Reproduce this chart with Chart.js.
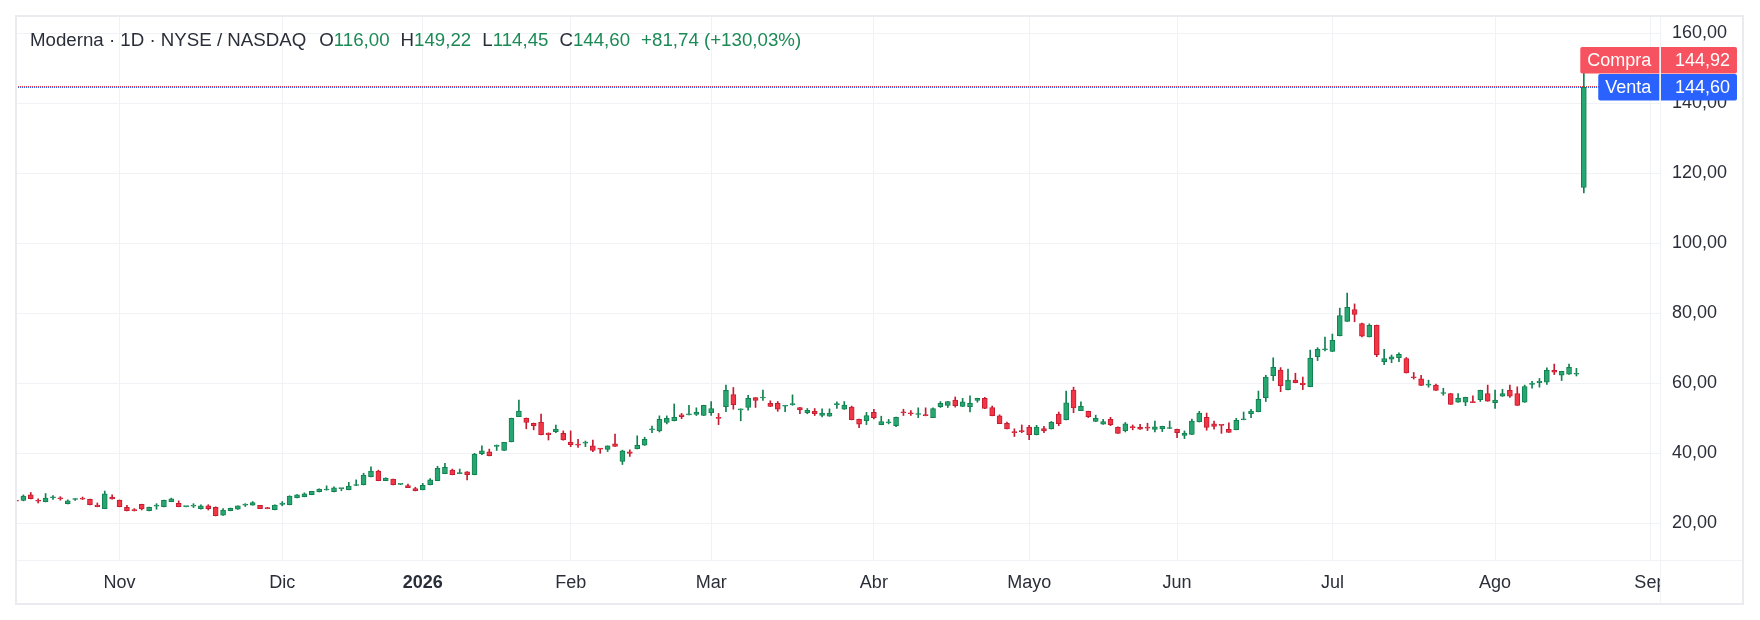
<!DOCTYPE html>
<html>
<head>
<meta charset="utf-8">
<script src="https://cdn.jsdelivr.net/npm/chart.js@4.4.1/dist/chart.umd.min.js"></script>
<style>
html,body{margin:0;padding:0;background:#fff;}
#wrap{position:relative;width:1760px;height:620px;overflow:hidden;}
#c{position:absolute;left:0;top:0;}
#hdr{position:absolute;left:30px;top:29px;font:18.7px "Liberation Sans",Arial,sans-serif;line-height:22px;color:#2a2e39;white-space:pre;}
#hdr .grp{margin-left:11px;}
#hdr .first{margin-left:13px;}
#hdr .g{color:#1b8a55;}
</style>
</head>
<body>
<div id="wrap">
<canvas id="c" width="1760" height="620"></canvas>
<div id="hdr"><span>Moderna · 1D · NYSE / NASDAQ</span><span class="grp first">O<span class="g">116,00</span></span><span class="grp">H<span class="g">149,22</span></span><span class="grp">L<span class="g">114,45</span></span><span class="grp">C<span class="g">144,60</span></span><span class="grp g">+81,74 (+130,03%)</span></div>
</div>
<script>
// ---- data (trading-day index 0 = 14 Oct 2025) ----
const openP = [
26.4,26.5,28.1,26.5,26.2,27.3,27.2,25.6,26.8,27.0,
26.85,25.2,24.2,27.5,26.6,24.55,23.9,25.4,23.6,24.9,
24.75,26.2,25.7,24.75,24.9,24.2,24.95,24.55,22.3,23.6,
24.0,25.2,25.2,25.1,24.5,23.9,25.4,25.3,27.3,27.6,
28.2,29.0,29.5,29.0,29.9,29.6,30.8,31.0,33.3,34.9,
32.2,32.6,31.1,30.8,29.9,29.6,31.0,32.2,34.2,35.2,
34.2,34.7,33.9,39.9,40.4,42.0,40.8,43.3,50.5,50.0,
48.6,48.9,45.8,46.2,45.7,43.2,42.45,42.9,42.1,41.3,
41.1,42.7,37.7,40.4,41.3,42.3,46.7,46.4,48.8,49.3,
51.0,51.0,51.1,50.8,51.6,50.1,53.3,56.8,52.4,53.1,
55.9,55.8,54.3,54.3,53.5,53.9,53.1,51.6,52.0,50.8,
50.6,53.9,52.6,53.2,49.7,49.3,51.7,48.2,48.7,47.9,
51.7,51.5,51.1,50.85,50.2,53.3,53.7,55.2,53.4,53.3,
55.1,55.7,53.1,50.7,48.6,46.0,46.3,47.5,45.3,47.1,
47.0,51.2,49.6,58.1,52.2,52.0,49.1,48.3,49.7,47.4,
46.5,47.45,47.4,47.3,46.85,47.0,47.1,46.85,45.1,45.4,
49.0,50.3,48.4,48.1,46.85,46.75,49.6,51.3,51.9,55.9,
62.2,63.8,58.2,60.95,60.1,59.05,67.6,69.6,69.1,73.6,
77.7,81.1,77.1,73.3,76.6,66.2,66.9,67.3,67.1,61.7,
61.3,59.5,59.5,57.1,57.1,54.6,54.6,54.6,55.3,57.1,
54.5,56.3,58.0,57.1,54.6,59.7,60.2,60.3,63.7,62.3,
62.6,62.6,116.00
];
const highP = [
26.6,28.1,28.8,27.0,28.5,27.9,27.6,26.7,27.05,27.5,
26.9,25.8,29.2,28.1,26.65,25.1,24.2,25.45,24.6,25.6,
26.6,27.2,26.4,24.8,25.6,25.3,25.3,24.7,24.2,24.35,
25.0,25.6,26.2,25.15,24.55,25.25,26.2,27.85,28.2,28.7,
29.15,29.85,30.7,30.4,30.0,31.7,32.4,34.3,36.1,35.2,
33.0,32.65,31.15,31.2,30.3,31.4,32.8,36.3,37.1,35.5,
35.5,34.75,40.0,42.1,41.2,42.4,43.15,50.05,55.2,50.1,
48.65,51.2,45.85,48.1,46.4,46.4,44.0,43.5,43.8,41.4,
42.15,45.5,40.9,41.0,45.0,44.6,47.8,50.7,50.7,54.1,
51.4,53.7,53.0,53.75,54.8,51.4,59.5,58.8,52.7,56.6,
55.95,58.1,55.0,54.8,53.7,56.7,53.15,52.8,52.8,52.7,
52.7,54.7,54.8,53.5,49.75,51.7,52.6,50.6,49.7,50.35,
52.6,52.2,53.0,53.0,53.0,54.8,54.85,56.1,55.7,56.4,
55.75,56.0,53.5,51.0,48.9,47.0,48.1,48.0,48.0,47.7,
49.1,51.8,57.8,58.9,54.7,52.05,50.9,49.7,50.3,47.6,
48.8,48.1,48.3,48.6,49.2,47.75,49.2,46.9,46.4,49.8,
52.0,51.5,49.2,48.15,48.7,50.0,51.8,52.6,57.8,62.3,
67.3,64.5,64.1,62.9,61.8,69.5,70.2,73.2,74.1,81.5,
85.8,82.7,77.2,77.0,76.65,69.7,68.1,68.7,67.4,63.1,
62.3,60.9,59.8,58.6,57.15,57.1,56.05,56.4,58.05,59.5,
58.1,58.3,59.5,59.0,59.5,60.6,61.4,64.4,65.5,63.45,
65.5,64.3,149.22
];
const lowP = [
26.2,26.4,26.95,25.8,26.1,26.8,26.6,25.5,26.5,26.8,
25.25,24.7,24.15,26.9,24.7,23.55,23.5,23.8,23.55,24.0,
24.7,26.15,24.7,24.7,24.5,24.0,23.8,22.1,22.25,23.55,
23.95,24.8,25.15,24.15,24.15,23.85,25.0,25.25,27.25,27.55,
28.15,28.95,29.45,28.95,29.3,29.55,30.75,30.95,33.25,32.15,
32.15,30.95,31.05,30.15,29.25,29.55,30.95,32.15,34.15,33.85,
34.15,32.4,33.85,39.6,39.25,40.8,40.75,43.25,50.45,47.0,
46.7,45.25,43.8,45.9,43.75,41.9,41.7,41.9,40.5,40.0,
40.5,41.95,36.8,39.1,41.25,42.25,45.9,46.1,48.4,49.25,
49.9,50.95,50.8,50.75,50.8,48.2,51.9,52.6,49.3,52.3,
53.1,55.1,53.35,52.0,51.9,53.7,51.3,51.3,50.8,50.4,
50.55,52.8,52.55,49.55,47.3,48.2,49.8,48.15,48.4,47.6,
50.8,50.8,50.2,50.7,50.15,53.1,53.1,53.2,53.35,51.8,
54.6,52.75,50.7,48.45,46.95,44.8,45.9,43.9,45.25,45.9,
46.95,47.9,49.55,51.6,52.15,50.2,49.05,48.25,47.9,45.65,
46.1,46.7,46.85,46.5,46.1,46.2,47.05,44.5,44.2,45.35,
48.95,46.6,46.9,45.7,45.95,46.7,49.55,50.2,51.85,54.8,
60.8,57.6,58.15,60.15,58.2,59.0,66.5,69.3,69.05,73.55,
77.65,77.6,73.3,73.25,67.6,65.3,65.9,66.2,62.95,61.2,
59.35,58.9,57.95,56.6,53.95,54.55,53.6,54.45,54.8,54.85,
52.8,56.25,56.0,53.65,54.55,58.6,58.9,59.7,62.5,60.8,
62.55,62.1,114.45
];
const closeP = [
26.3,27.8,27.0,26.3,27.2,27.5,27.0,26.4,26.9,26.9,
25.3,24.75,28.4,26.95,24.75,23.6,23.6,24.1,24.55,25.05,
26.55,26.95,24.75,24.78,25.1,24.95,24.2,22.2,23.8,24.3,
24.95,25.4,25.9,24.2,24.2,25.2,25.8,27.8,28.1,28.4,
29.1,29.8,29.6,30.1,29.95,30.6,30.9,33.7,34.9,32.2,
32.9,31.0,31.12,30.2,29.3,30.85,32.4,35.7,36.0,33.9,
34.3,33.9,39.8,40.7,39.3,42.1,43.1,50.0,52.1,48.8,
47.9,45.3,45.3,46.9,43.8,42.5,42.35,43.0,40.8,41.2,
42.1,42.0,40.7,40.0,42.3,44.0,46.9,49.7,50.0,50.3,
50.5,51.2,51.8,53.7,52.8,50.0,58.0,53.9,52.6,55.7,
55.1,55.9,53.4,52.6,53.6,54.1,52.5,52.3,51.3,51.5,
51.5,54.0,53.8,49.6,48.3,50.8,50.2,49.1,48.9,50.3,
51.6,51.3,51.3,50.75,52.8,54.3,54.8,53.6,54.7,54.3,
55.7,52.8,50.75,48.5,47.0,45.9,46.2,45.3,47.5,46.4,
48.85,48.5,54.4,53.0,53.4,50.5,50.0,49.1,48.2,45.7,
48.4,47.35,46.9,47.2,47.6,47.7,47.2,45.9,45.8,49.2,
51.5,47.4,47.7,48.0,46.0,49.4,49.7,52.1,55.4,61.8,
64.6,59.3,60.9,60.2,59.6,67.2,69.7,69.7,72.3,79.4,
81.7,79.7,73.5,76.6,68.2,67.1,67.6,68.3,63.0,61.6,
59.4,59.7,58.0,57.2,54.0,55.7,56.0,54.5,58.0,54.9,
55.2,57.1,56.3,53.7,59.1,59.8,60.6,63.7,63.2,63.4,
64.6,62.86,144.60
];
const monthLabels   = ['Nov','Dic','2026','Feb','Mar','Abr','Mayo','Jun','Jul','Ago','Sep'];
const monthStartIdx = [14, 36, 55, 75, 94, 116, 137, 157, 178, 200, 221];
const yTickValues   = [20, 40, 60, 80, 100, 120, 140, 160];
const askPrice = 144.92;   // Compra
const bidPrice = 144.60;   // Venta

// ---- styles ----
const FONT = '"Liberation Sans", Arial, sans-serif';
const TXT = '#2a2e39';
const GRID = '#f0f2f5';
const FRAME = '#e9ebee';
const UP_FILL = '#26a671', UP_LINE = '#12804f';
const DOWN_FILL = '#f23645', DOWN_LINE = '#c41d31';
const ASK_BG = '#f7525f', BID_BG = '#2962ff';

const isUp = i => closeP[i] >= openP[i];
const bodyData = openP.map((o, i) => ({ x: i, y: [o, closeP[i]] }));
const wickData = lowP.map((l, i) => ({ x: i, y: [l, highP[i]] }));

function rr(ctx, x, y, w, h, r) {
  ctx.beginPath();
  if (ctx.roundRect) ctx.roundRect(x, y, w, h, r); else ctx.rect(x, y, w, h);
  ctx.fill();
}

const deco = {
  id: 'deco',
  beforeDatasetsDraw(chart) {
    const { ctx, chartArea: a, scales: { y } } = chart;
    ctx.save();
    ctx.lineWidth = 1;
    ctx.setLineDash([1, 1]);
    [[askPrice, DOWN_FILL], [bidPrice, BID_BG]].forEach(([p, c]) => {
      const yy = Math.round(y.getPixelForValue(p)) + 0.5;
      ctx.strokeStyle = c;
      ctx.beginPath(); ctx.moveTo(a.left, yy); ctx.lineTo(a.right, yy); ctx.stroke();
    });
    ctx.restore();
  },
  afterDraw(chart) {
    const { ctx, chartArea: a, scales: { x, y } } = chart;
    ctx.save();
    // hide x labels spilling into the price-axis column
    ctx.fillStyle = '#fff';
    ctx.fillRect(a.right + 1, a.bottom + 1, y.right - a.right - 1, x.bottom - a.bottom - 1);
    // divider lines
    ctx.strokeStyle = GRID; ctx.lineWidth = 1;
    ctx.beginPath();
    ctx.moveTo(Math.round(a.right) + 0.5, a.top); ctx.lineTo(Math.round(a.right) + 0.5, x.bottom);
    ctx.moveTo(a.left, Math.round(a.bottom) + 0.5); ctx.lineTo(y.right, Math.round(a.bottom) + 0.5);
    ctx.stroke();
    // outer frame
    ctx.strokeStyle = FRAME; ctx.lineWidth = 2;
    ctx.strokeRect(a.left, a.top, y.right - a.left, x.bottom - a.top);
    // price labels
    ctx.font = '18px ' + FONT;
    ctx.textBaseline = 'middle';
    const h = 26.5, gap = 0.7;
    const vy = y.getPixelForValue(bidPrice);
    const bidTop = vy - h / 2;
    const askTop = bidTop - gap - h;
    const rightEnd = y.right - 6;
    const fmt = v => v.toFixed(2).replace('.', ',');
    [[askTop, 'Compra', askPrice, ASK_BG], [bidTop, 'Venta', bidPrice, BID_BG]].forEach(([top, name, val, bg]) => {
      const w = ctx.measureText(name).width + 15;
      ctx.fillStyle = bg;
      rr(ctx, a.right - 0.7 - w, top, w, h, [2, 0, 0, 2]);
      rr(ctx, a.right + 1, top, rightEnd - a.right - 1, h, [0, 2, 2, 0]);
      ctx.fillStyle = '#fff';
      ctx.textAlign = 'left';
      ctx.fillText(name, a.right - 0.7 - w + 7, top + h / 2 + 0.5);
      ctx.textAlign = 'right';
      ctx.fillText(fmt(val), rightEnd - 7, top + h / 2 + 0.5);
    });
    ctx.restore();
  }
};

new Chart(document.getElementById('c'), {
  type: 'bar',
  data: {
    datasets: [
      {
        label: 'body', data: bodyData, grouped: false,
        barThickness: 5, minBarLength: 1, borderWidth: 1, borderSkipped: false,
        backgroundColor: ctx => isUp(ctx.dataIndex) ? UP_FILL : DOWN_FILL,
        borderColor: ctx => isUp(ctx.dataIndex) ? UP_LINE : DOWN_LINE
      },
      {
        label: 'wick', data: wickData, grouped: false,
        barThickness: 1, borderWidth: 0,
        backgroundColor: ctx => isUp(ctx.dataIndex) ? UP_LINE : DOWN_LINE
      }
    ]
  },
  options: {
    responsive: false,
    animation: false,
    layout: { padding: { left: 16, top: 16, right: 17, bottom: 16 } },
    plugins: { legend: { display: false }, tooltip: { enabled: false } },
    scales: {
      x: {
        type: 'linear', min: 0, max: 222.3, offset: false,
        grid: { color: GRID, drawTicks: false, offset: false },
        border: { display: false },
        afterBuildTicks: s => { s.ticks = monthStartIdx.map(v => ({ value: v })); },
        afterFit: s => { s.height = 44; s.paddingLeft = 0; s.paddingRight = 0; },
        ticks: {
          autoSkip: false, maxRotation: 0, minRotation: 0, padding: 12, color: TXT,
          font: ctx => ({ family: FONT, size: 18,
            weight: (ctx.tick && monthLabels[monthStartIdx.indexOf(ctx.tick.value)] === '2026') ? 'bold' : 'normal' }),
          callback: v => { const k = monthStartIdx.indexOf(v); return k >= 0 ? monthLabels[k] : ''; }
        }
      },
      y: {
        position: 'right', min: 9.5, max: 165,
        grid: { color: GRID, drawTicks: false },
        border: { display: false },
        afterBuildTicks: s => { s.ticks = yTickValues.map(v => ({ value: v })); },
        afterFit: s => { s.width = 83; s.paddingTop = 0; s.paddingBottom = 0; },
        ticks: {
          padding: 12, color: TXT, font: { family: FONT, size: 18 },
          callback: v => v.toFixed(2).replace('.', ',')
        }
      }
    }
  },
  plugins: [deco]
});
</script>
</body>
</html>
